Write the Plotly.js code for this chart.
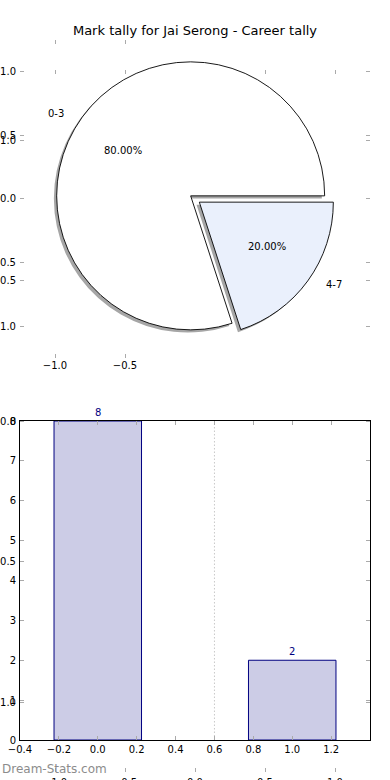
<!DOCTYPE html>
<html><head><meta charset="utf-8">
<script src="https://cdn.plot.ly/plotly-3.0.1.min.js"></script>
<style>html,body{margin:0;padding:0;background:#fff;}#chart{width:390px;height:780px;}</style>
</head><body><div id="chart"></div>
<script>
const chartTitle = 'Mark tally for Jai Serong - Career tally';
const pieLabels = ['0-3', '4-7'];
const pieValues = [8, 2];
const pieColors = ['#ffffff', '#eaf0fc'];
const pieExplode = [0.04, 0.04];
const barCategories = [0, 1];
const barValues = [8, 2];
const barTickVals = [-0.4, -0.2, 0, 0.2, 0.4, 0.6, 0.8, 1.0, 1.2];
const barYTickVals = [0, 1, 2, 3, 4, 5, 6, 7, 8];
const pieTickVals = [-1, -0.5, 0, 0.5, 1];
const pieTopTickVals = [-1, -0.5];
const dividerX = 0.6;
const watermark = 'Dream-Stats.com';

const W = 390, H = 780;
const FONT = 'DejaVu Sans, sans-serif';
const px = v => v / W;
const py = v => 1 - v / H;

// pie geometry (pixels)
const pieCx = 195, pieCy = 199, pieR = 134;
const maxPull = Math.max(...pieExplode);
const half = pieR * (1 + maxPull);
function pieDomain(dx, dy) {
  return { x: [px(pieCx + dx - half), px(pieCx + dx + half)],
           y: [py(pieCy + dy + half), py(pieCy + dy - half)] };
}

const total = pieValues.reduce((a, b) => a + b, 0);
// first slice starts at 3 o'clock and runs counterclockwise (matplotlib default)
const pieRotation = 90 - 360 * pieValues[0] / total;

const shadowTrace = {
  type: 'pie', labels: pieLabels, values: pieValues, sort: false,
  direction: 'counterclockwise', rotation: pieRotation, pull: pieExplode,
  marker: { colors: pieColors.map(() => '#a6a6a6'), line: { width: 0 } },
  textinfo: 'none', hoverinfo: 'skip', showlegend: false,
  domain: pieDomain(-2.8, 2.6)
};
const pieTrace = {
  type: 'pie', labels: pieLabels, values: pieValues, sort: false,
  direction: 'counterclockwise', rotation: pieRotation, pull: pieExplode,
  marker: { colors: pieColors, line: { color: '#000', width: 0.9 } },
  textinfo: 'none', hoverinfo: 'label+percent', showlegend: false,
  domain: pieDomain(0, 0)
};
const barTrace = {
  type: 'bar', x: barCategories, y: barValues, width: 0.45,
  marker: { color: 'rgba(0,0,128,0.2)', line: { color: '#000080', width: 1 } },
  xaxis: 'x', yaxis: 'y', hoverinfo: 'x+y', showlegend: false
};

// pie label annotations (matplotlib-style: labeldistance 1.1, pctdistance 0.6)
const annotations = [];
let start = 0;
pieValues.forEach((v, i) => {
  const frac = v / total;
  const mid = (start + frac / 2) * 2 * Math.PI;
  start += frac;
  const c = Math.cos(mid), s = Math.sin(mid);
  const ex = pieExplode[i] * c, ey = pieExplode[i] * s;
  annotations.push({
    xref: 'x2', yref: 'y2', x: ex + 1.1 * c, y: ey + 1.1 * s,
    text: pieLabels[i], showarrow: false,
    xanchor: c < 0 ? 'right' : 'left', yanchor: 'middle',
    font: { family: FONT, size: 10, color: '#000' }
  });
  annotations.push({
    xref: 'x2', yref: 'y2', x: ex + 0.6 * c, y: ey + 0.6 * s,
    text: (100 * frac).toFixed(2) + '%', showarrow: false,
    xanchor: 'center', yanchor: 'middle',
    font: { family: FONT, size: 10, color: '#000' }
  });
});
barCategories.forEach((c, i) => {
  annotations.push({
    xref: 'x', yref: 'y', x: c, y: barValues[i], text: String(barValues[i]),
    showarrow: false, xanchor: 'center', yanchor: 'bottom', yshift: 1,
    font: { family: FONT, size: 10, color: '#000080' }
  });
});
annotations.push({
  xref: 'paper', yref: 'paper', x: 0, y: py(769), xanchor: 'left', yanchor: 'middle',
  text: watermark, showarrow: false,
  font: { family: FONT, size: 12, color: '#8c8c8c' }
});

const tickCommon = {
  ticks: 'inside', ticklen: 4, tickcolor: '#aaaaaa', tickwidth: 1,
  showgrid: false, zeroline: false, fixedrange: true,
  tickfont: { family: FONT, size: 10, color: '#000' }
};

const layout = {
  width: W, height: H, margin: { l: 0, r: 0, t: 0, b: 0 },
  paper_bgcolor: '#fff', plot_bgcolor: 'rgba(0,0,0,0)',
  font: { family: FONT, size: 10, color: '#000' },
  showlegend: false,
  title: { text: chartTitle, x: 0.5, xanchor: 'center', y: py(30), yanchor: 'middle',
           font: { family: FONT, size: 13, color: '#000' } },
  xaxis: Object.assign({}, tickCommon, {
    domain: [px(20), px(370)], range: [-0.4, 1.4], anchor: 'y',
    tickvals: barTickVals, tickformat: '.1f',
    showline: true, linecolor: '#000', linewidth: 1, mirror: 'allticks'
  }),
  yaxis: Object.assign({}, tickCommon, {
    domain: [py(740), py(421)], range: [0, 8], anchor: 'x',
    tickvals: barYTickVals, ticklabelstandoff: 1,
    showline: true, linecolor: '#000', linewidth: 1, mirror: 'allticks'
  }),
  xaxis2: Object.assign({}, tickCommon, {
    domain: [px(20), px(370)], range: [-1.25, 1.25], anchor: 'y2',
    tickvals: pieTopTickVals, tickformat: '.1f', showline: false, mirror: 'ticks'
  }),
  yaxis2: Object.assign({}, tickCommon, {
    domain: [py(358.25), py(39.5)], range: [-1.25, 1.25], anchor: 'x2',
    tickvals: pieTickVals, tickformat: '.1f', showline: false, mirror: 'ticks',
    ticklabelstandoff: 3
  }),
  xaxis3: Object.assign({}, tickCommon, {
    domain: [px(20), px(370)], range: [-1.25, 1.25], anchor: 'y3',
    tickvals: pieTickVals, tickformat: '.1f', showline: false, mirror: 'ticks',
    ticklabelstandoff: 3
  }),
  yaxis3: Object.assign({}, tickCommon, {
    domain: [py(772.25), py(69.75)], range: [-1.25, 1.25], anchor: 'x3',
    tickvals: pieTickVals, tickformat: '.1f', showline: false, mirror: 'ticks',
    ticklabelstandoff: 3
  }),
  shapes: [{
    type: 'line', xref: 'x', yref: 'y domain', x0: dividerX, x1: dividerX, y0: 0, y1: 1,
    line: { color: '#c8c8c8', width: 1, dash: '1.5px,2px' }, layer: 'below'
  }],
  annotations: annotations
};

// invisible anchors so the pie-axis subplots exist
const p1 = { type: 'scatter', x: [], y: [], xaxis: 'x2', yaxis: 'y2', showlegend: false, hoverinfo: 'skip' };
const p2 = { type: 'scatter', x: [], y: [], xaxis: 'x3', yaxis: 'y3', showlegend: false, hoverinfo: 'skip' };

Plotly.newPlot('chart', [p2, p1, barTrace, shadowTrace, pieTrace], layout,
  { displayModeBar: false, staticPlot: true });
</script>
</body></html>
